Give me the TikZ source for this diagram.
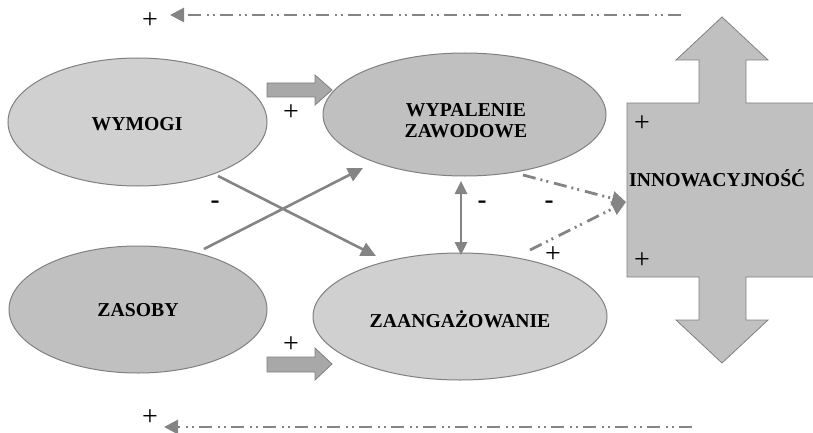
\documentclass[tikz,border=0pt]{standalone}
\usepackage{fontspec}
\setmainfont{Liberation Serif}
\usetikzlibrary{shapes.geometric,arrows.meta}
\definecolor{lightf}{RGB}{208,208,208}
\definecolor{darkf}{RGB}{192,192,192}
\definecolor{blockf}{RGB}{168,168,168}
\definecolor{edgec}{RGB}{128,128,128}
\definecolor{linec}{RGB}{132,132,132}
\tikzset{
  oval/.style={ellipse, draw=edgec, line width=1pt, inner sep=0pt,
    font=\fontsize{19.7}{22}\selectfont\bfseries, align=center},
  plussign/.style={inner sep=0pt, font=\fontsize{28}{28}\selectfont},
  minussign/.style={inner sep=0pt, font=\fontsize{27}{27}\selectfont\bfseries},
  solidarrow/.style={draw=linec, line width=2.6pt, -{Triangle[length=15pt,width=14pt]}},
  bothsolid/.style={draw=linec, line width=2.6pt, {Triangle[length=13pt,width=12pt]}-{Triangle[length=13pt,width=12pt]}},
  dotdash/.style={draw=linec, line width=2.8pt, dash pattern=on 13pt off 5pt on 2pt off 4pt on 2pt off 6pt,
    -{Triangle[length=14pt,width=14pt]}},
  blockarrow/.style={fill=blockf, draw=edgec, line width=0.8pt},
}
\begin{document}
\begin{tikzpicture}[x=1pt,y=-1pt]
\useasboundingbox (0,0) rectangle (813,433);
\clip (0,0) rectangle (813,433);

% ellipses
\node[oval, fill=lightf, minimum width=259pt, minimum height=128pt] (wym) at (137.5,122) {};
\node[font=\fontsize{19.7}{22}\selectfont\bfseries] (wymt) at (137,124) {WYMOGI};
\node[oval, fill=darkf, minimum width=258pt, minimum height=127pt] (zas) at (138,309.5) {};
\node[font=\fontsize{19.7}{22}\selectfont\bfseries] (zast) at (138,310) {ZASOBY};
\node[oval, fill=darkf, minimum width=283pt, minimum height=123pt] (wyp) at (464.5,114.5) {};
\node[font=\fontsize{19.7}{21}\selectfont\bfseries, align=center] (wypt) at (466,121) {WYPALENIE\\ZAWODOWE};
\node[oval, fill=lightf, minimum width=294pt, minimum height=127pt] (zaa) at (460,316.5) {};
\node[font=\fontsize{19.7}{22}\selectfont\bfseries] (zaat) at (460,319) {ZAANGAŻOWANIE};

% innovation shape
\path[fill=darkf, draw=edgec, line width=0.8pt]
  (627,103) -- (699,103) -- (699,60) -- (676,60) -- (722,17) -- (768,60) -- (746,60) -- (746,103)
  -- (830,103) -- (830,277) -- (746,277) -- (746,320) -- (768,320) -- (722,363) -- (676,320)
  -- (699,320) -- (699,277) -- (627,277) -- cycle;
\node[anchor=west, inner sep=0pt, font=\fontsize{19.7}{22}\selectfont\bfseries] (inn) at (629,178) {INNOWACYJNOŚĆ};
\coordinate (innL) at (626,202);

% block arrows
\path[blockarrow] (267,83) -- (315,83) -- (315,75) -- (332,90) -- (315,105) -- (315,97) -- (267,97) -- cycle;
\path[blockarrow] (267,357) -- (315,357) -- (315,348) -- (332,364) -- (315,380) -- (315,372) -- (267,372) -- cycle;

% crossing arrows
\coordinate (c1s) at (218,176);
\coordinate (c1e) at (376,256);
\coordinate (c2s) at (204,249);
\coordinate (c2e) at (363,168);
\draw[solidarrow] (c1s) -- (c1e);
\draw[solidarrow] (c2s) -- (c2e);

% vertical double arrow
\coordinate (v1) at (461,181);
\coordinate (v2) at (461,255);
\draw[bothsolid] (v1) -- (v2);

% dash-dot arrows to innovation
\coordinate (d1s) at (523,175);
\coordinate (d2s) at (530,250);
\draw[dotdash] (d1s) -- (innL);
\draw[dotdash] (d2s) -- (innL);

% feedback arrows
\coordinate (t1s) at (681,15);
\coordinate (t1e) at (170,15);
\coordinate (b1s) at (692,427);
\coordinate (b1e) at (164,427);
\draw[dotdash] (t1s) -- (t1e);
\draw[dotdash] (b1s) -- (b1e);

% signs
\node[plussign] (p1) at (150,21) {+};
\node[plussign] (p2) at (291,113) {+};
\node[plussign] (p3) at (291,345) {+};
\node[plussign] (p4) at (553,255) {+};
\node[plussign] (p5) at (642,124) {+};
\node[plussign] (p6) at (642,261) {+};
\node[plussign] (p7) at (150,418) {+};
\node[minussign] (m1) at (215,205) {-};
\node[minussign] (m2) at (482,205) {-};
\node[minussign] (m3) at (549,205) {-};
\end{tikzpicture}
\end{document}
